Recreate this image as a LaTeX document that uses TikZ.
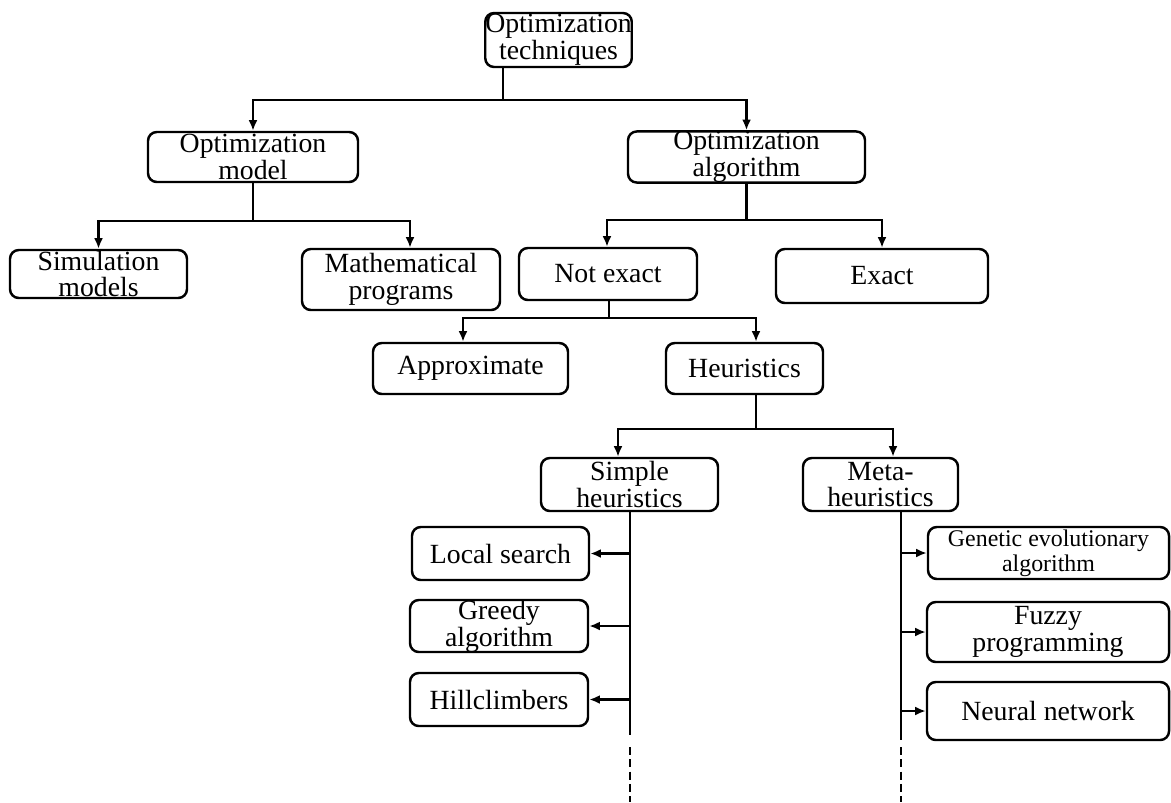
\documentclass[tikz,border=0pt]{standalone}
\usepackage{fontspec}
\setmainfont{Liberation Serif}
\usetikzlibrary{arrows.meta}
\begin{document}
\begin{tikzpicture}[
    >={Latex[length=6pt, width=5pt]},
    blk/.style={draw, line width=1.4pt, rounded corners=5pt, align=center, inner sep=0pt, font=\fontsize{15.8}{15.2}\selectfont},
    wire/.style={line width=1.4pt},
    tail/.style={line width=1.4pt, dash pattern=on 4.5pt off 2.5pt}
    ]

    \useasboundingbox (0, 0) rectangle (23.42, -16.04);

    % Root
    \node[blk, minimum width=2.86cm, minimum height=1.08cm] (tech) at (11.17, -0.80) {Optimization\\techniques};

    % Model and algorithm
    \node[blk, minimum width=4.20cm, minimum height=1.00cm] (model) at (5.06, -3.14) {Optimization\\model};
    \node[blk, minimum width=4.74cm, minimum height=1.00cm] (algo) at (14.93, -3.14) {Optimization\\algorithm};

    % Second level
    \node[blk, minimum width=3.54cm, minimum height=0.96cm] (sim) at (1.97, -5.48) {Simulation\\models};
    \node[blk, minimum width=3.96cm, minimum height=1.22cm] (math) at (8.02, -5.59) {Mathematical\\programs};
    \node[blk, minimum width=3.56cm, minimum height=1.04cm] (notex) at (12.16, -5.48) {Not exact};
    \node[blk, minimum width=4.24cm, minimum height=1.08cm] (exact) at (17.64, -5.52) {Exact};

    % Not exact split
    \node[blk, minimum width=3.90cm, minimum height=1.02cm] (approx) at (9.41, -7.37) {Approximate};
    \node[blk, minimum width=3.14cm, minimum height=1.02cm] (heur) at (14.89, -7.37) {Heuristics};

    % Heuristics split
    \node[blk, minimum width=3.54cm, minimum height=1.06cm] (simple) at (12.59, -9.69) {Simple\\heuristics};
    \node[blk, minimum width=3.10cm, minimum height=1.06cm] (meta) at (17.61, -9.69) {Meta-\\heuristics};

    % Simple heuristics list
    \node[blk, minimum width=3.54cm, minimum height=1.06cm] (local) at (10.01, -11.07) {Local search};
    \node[blk, minimum width=3.56cm, minimum height=1.04cm] (greedy) at (9.98, -12.52) {Greedy\\algorithm};
    \node[blk, minimum width=3.56cm, minimum height=1.06cm] (hill) at (9.98, -13.99) {Hillclimbers};

    % Metaheuristics list
    \node[blk, minimum width=4.82cm, minimum height=1.04cm, font=\fontsize{13.6}{14}\selectfont] (gen) at (20.97, -11.06) {Genetic evolutionary\\algorithm};
    \node[blk, minimum width=4.84cm, minimum height=1.20cm] (fuzzy) at (20.96, -12.64) {Fuzzy\\programming};
    \node[blk, minimum width=4.84cm, minimum height=1.16cm] (neural) at (20.96, -14.22) {Neural network};

    % Root to first level
    \coordinate (j1) at (10.06, -2.00);
    \draw[wire] (j1 |- tech.south) -- (j1);
    \draw[wire, ->] (j1) -| (model.north);
    \draw[wire, ->] (j1) -| (algo.north);

    % Model branch
    \coordinate (j2) at (5.06, -4.42);
    \draw[wire] (model.south) -- (j2);
    \draw[wire, ->] (j2) -| (sim.north);
    \draw[wire, ->] (j2) -| ([xshift=0.18cm]math.north);

    % Algorithm branch
    \coordinate (j3) at (14.93, -4.40);
    \draw[wire] (algo.south) -- (j3);
    \draw[wire, ->] (j3) -| ([xshift=-0.02cm]notex.north);
    \draw[wire, ->] (j3) -| (exact.north);

    % Not exact branch
    \coordinate (j4) at (12.18, -6.36);
    \draw[wire] (j4 |- notex.south) -- (j4);
    \draw[wire, ->] (j4) -| ([xshift=-0.15cm]approx.north);
    \draw[wire, ->] (j4) -| ([xshift=0.23cm]heur.north);

    % Heuristics branch
    \coordinate (j5) at (15.12, -8.58);
    \draw[wire] (j5 |- heur.south) -- (j5);
    \draw[wire, ->] (j5) -| ([xshift=-0.23cm]simple.north);
    \draw[wire, ->] (j5) -| ([xshift=0.25cm]meta.north);

    % Simple heuristics stem
    \coordinate (s-end) at (12.60, -14.70);
    \coordinate (s-tail) at (12.60, -16.04);
    \draw[wire] (s-end |- simple.south) -- (s-end);
    \draw[tail] ([yshift=-0.24cm]s-end) -- (s-tail);
    \foreach \n in {local, greedy, hill}
        \draw[wire, ->] (s-end |- \n.east) -- (\n.east);

    % Metaheuristics stem
    \coordinate (m-end) at (18.02, -14.80);
    \coordinate (m-tail) at (18.02, -16.04);
    \draw[wire] (m-end |- meta.south) -- (m-end);
    \draw[tail] ([yshift=-0.14cm]m-end) -- (m-tail);
    \foreach \n in {gen, fuzzy, neural}
        \draw[wire, ->] (m-end |- \n.west) -- (\n.west);

\end{tikzpicture}
\end{document}
